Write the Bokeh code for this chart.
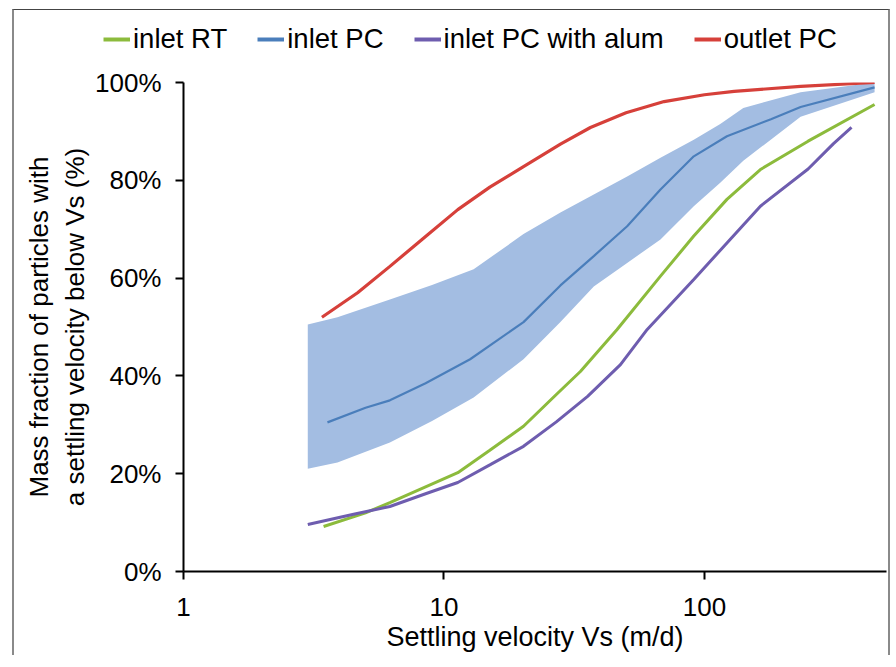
from bokeh.plotting import figure
from bokeh.models import (FixedTicker, PrintfTickFormatter, Legend, LegendItem,
                          Range1d, CustomJSTickFormatter)
from bokeh.embed import file_html
from bokeh.resources import INLINE

# ---- data (settling velocity m/d, mass fraction %) ----
vs_rt = [3.45, 5, 6.2, 8.5, 11.3, 15, 20.2, 27, 33.4, 46.2, 67.8, 91, 122, 164, 250, 450]
mf_rt = [9.2, 12, 14.1, 17.3, 20.2, 24.8, 29.7, 36.2, 40.9, 49.5, 60.4, 68.6, 76.1, 82.2, 88, 95.5]

vs_pc = [3.57, 5, 6.2, 8.5, 12.6, 20.2, 28, 37.6, 50.5, 67.8, 91, 122, 180, 234, 450]
mf_pc = [30.5, 33.5, 35, 38.5, 43.4, 51, 58.5, 64.5, 70.6, 78.1, 84.9, 89, 92.5, 95, 99]

vs_band = [3.0, 3.9, 6.2, 9, 13, 20.2, 28, 37.6, 50.5, 67.8, 91, 115, 141, 234, 450]
pc_top = [50.5, 52, 55.6, 58.6, 61.8, 69, 73.4, 77.1, 80.8, 84.6, 88.3, 91.5, 94.8, 98, 100]
pc_bottom = [21, 22.3, 26.4, 30.8, 35.6, 43.4, 51, 58.3, 63.1, 67.9, 74.7, 79.5, 84, 93, 98]

vs_al = [3.0, 4.5, 6.2, 8.5, 11.3, 15, 20.2, 27, 35.6, 47.6, 60.3, 91, 122, 164, 250, 313, 367]
mf_al = [9.6, 11.7, 13.3, 15.9, 18.2, 21.8, 25.6, 30.6, 35.8, 42.3, 49.5, 59.7, 67.2, 74.7, 82.3, 87.5, 90.8]

vs_out = [3.4, 4.66, 6.2, 8.5, 11.3, 15, 20.2, 28, 36.5, 50, 70, 100, 130, 234, 450]
mf_out = [52, 57, 62.4, 68.5, 74, 78.6, 82.8, 87.4, 90.8, 93.8, 96.1, 97.5, 98.2, 99.2, 100]

series_names = ["inlet RT", "inlet PC", "inlet PC with alum", "outlet PC"]
series_colors = ["#8CBB3C", "#4A7EBB", "#6E5DAF", "#D6403A"]
x_ticks = [1, 10, 100]
y_ticks = [0, 20, 40, 60, 80, 100]

FONT = "Liberation Sans"

# ---------- main chart ----------
p = figure(width=878, height=596, x_axis_type="log",
           x_range=Range1d(1, 500), y_range=Range1d(0, 100),
           output_backend="svg", toolbar_location=None,
           min_border_left=169, min_border_right=6,
           min_border_top=23, min_border_bottom=84)
p.outline_line_color = None
p.xgrid.grid_line_color = None
p.ygrid.grid_line_color = None
p.background_fill_color = "white"
p.border_fill_color = "white"
p.styles = {"margin-left": "12px",
            "border-left": "2px solid #8a8a8a",
            "border-right": "2px solid #8a8a8a"}

p.varea(x=vs_band, y1=pc_bottom, y2=pc_top, fill_color="#A3BDE2", fill_alpha=1.0)
p.line(vs_pc, mf_pc, line_color=series_colors[1], line_width=2.2)
p.line(vs_rt, mf_rt, line_color=series_colors[0], line_width=3)
p.line(vs_al, mf_al, line_color=series_colors[2], line_width=3)
p.line(vs_out, mf_out, line_color=series_colors[3], line_width=3.2)

for ax in (p.xaxis[0], p.yaxis[0]):
    ax.axis_line_color = "black"
    ax.axis_line_width = 2
    ax.major_tick_line_color = "black"
    ax.major_tick_line_width = 2
    ax.major_tick_out = 8
    ax.major_tick_in = 0
    ax.minor_tick_line_color = None
    ax.major_label_text_font = FONT
    ax.major_label_text_font_size = "26px"
    ax.major_label_text_color = "black"
    ax.axis_label_text_font = FONT
    ax.axis_label_text_font_size = "26px"
    ax.axis_label_text_font_style = "normal"
    ax.axis_label_text_color = "black"

p.xaxis[0].ticker = FixedTicker(ticks=x_ticks)
p.xaxis[0].formatter = CustomJSTickFormatter(code="return String(Math.round(tick));")
p.xaxis[0].major_label_standoff = 18
p.xaxis[0].axis_label = "Settling velocity Vs (m/d)"
p.xaxis[0].axis_label_text_font_size = "27px"
p.xaxis[0].axis_label_standoff = 3

p.yaxis[0].ticker = FixedTicker(ticks=y_ticks)
p.yaxis[0].formatter = PrintfTickFormatter(format="%d%%")
p.yaxis[0].major_label_standoff = 14
p.yaxis[0].axis_label = "Mass fraction of particles with\na settling velocity below Vs (%)"
p.yaxis[0].axis_label_standoff = 2

# ---------- legend strip ----------
lg = figure(width=878, height=50, x_range=Range1d(0, 1), y_range=Range1d(0, 1),
            output_backend="svg", toolbar_location=None,
            x_axis_location=None, y_axis_location=None,
            min_border=0, min_border_left=0, min_border_right=0,
            min_border_top=0, min_border_bottom=0)
lg.outline_line_color = None
lg.xgrid.grid_line_color = None
lg.ygrid.grid_line_color = None
lg.background_fill_color = "white"
lg.border_fill_color = "white"
lg.styles = {"margin-left": "12px", "margin-top": "9px",
             "border-top": "1px solid #444444",
             "border-left": "2px solid #8a8a8a",
             "border-right": "2px solid #8a8a8a"}

items = []
for name, col in zip(series_names, series_colors):
    # legend-only renderer, placed outside the visible range
    r = lg.line(x=[-5, -4], y=[-5, -4], line_color=col, line_width=4)
    items.append(LegendItem(label=name, renderers=[r]))

legend = Legend(items=items, orientation="horizontal", location=(89, 5))
legend.label_text_font = FONT
legend.label_text_font_size = "27.5px"
legend.label_text_color = "black"
legend.glyph_width = 27
legend.glyph_height = 20
legend.label_standoff = 3
legend.spacing = 30
legend.padding = 0
legend.margin = 0
legend.border_line_color = None
legend.background_fill_alpha = 0
lg.add_layout(legend, "center")

open("out.html", "w").write(file_html([lg, p], INLINE))
